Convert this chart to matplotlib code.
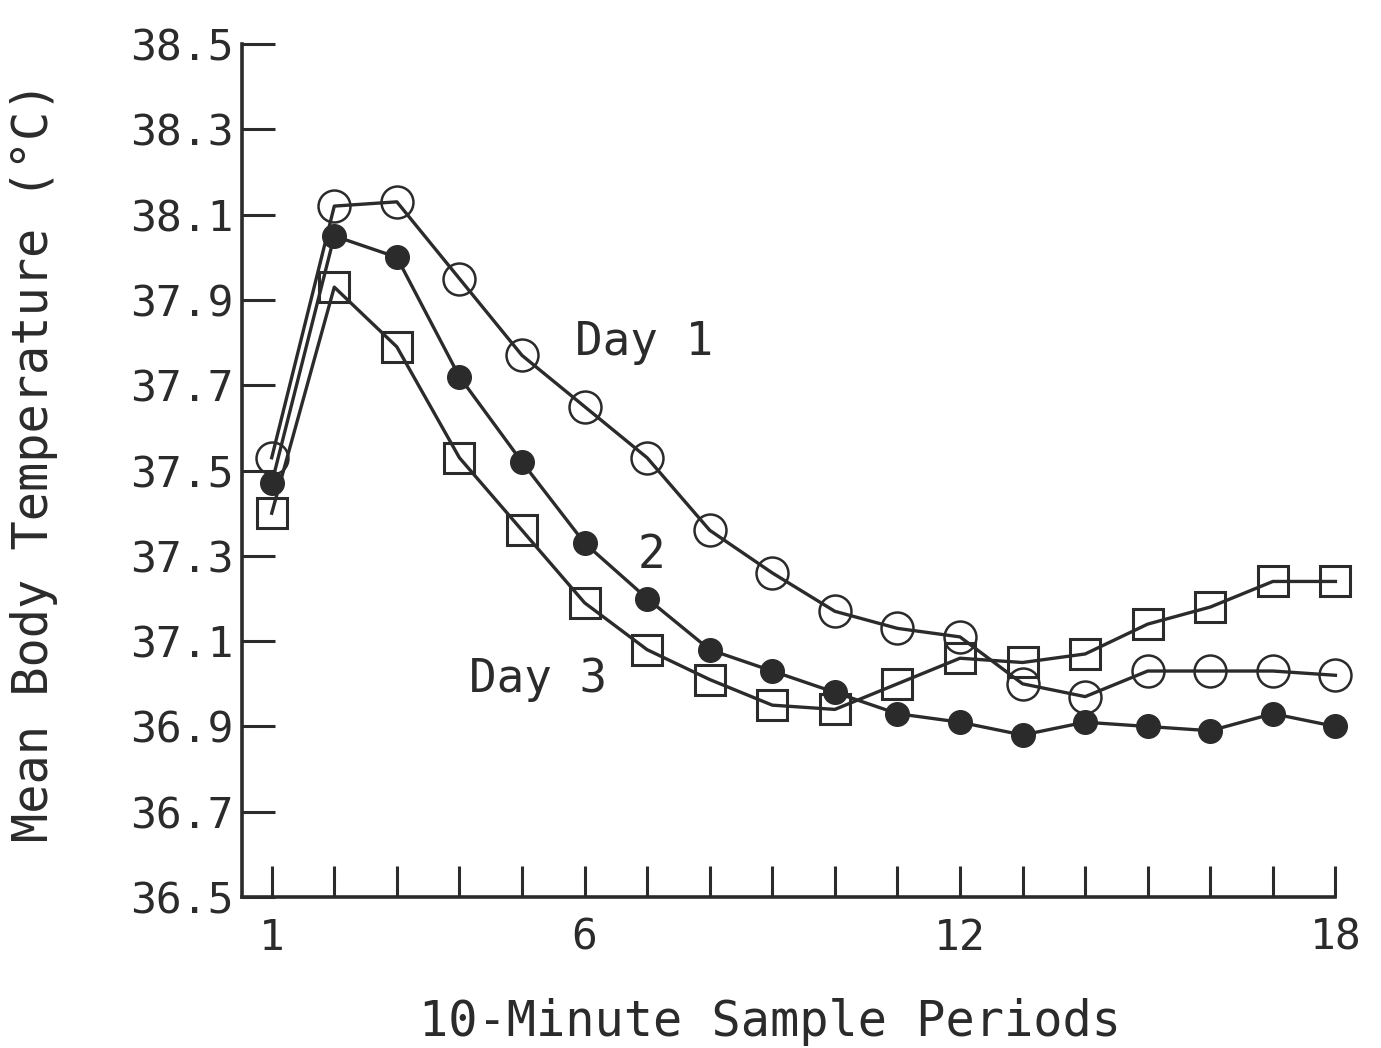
import numpy as np
import matplotlib
matplotlib.use('Agg')
import matplotlib.pyplot as plt
from matplotlib.ticker import MultipleLocator, FixedLocator

# 10-minute sample periods
periods = np.arange(1, 19)

# mean body temperature
day1 = [37.53, 38.12, 38.13, 37.95, 37.77, 37.65, 37.53, 37.36, 37.26,
        37.17, 37.13, 37.11, 37.00, 36.97, 37.03, 37.03, 37.03, 37.02]
day2 = [37.47, 38.05, 38.00, 37.72, 37.52, 37.33, 37.20, 37.08, 37.03,
        36.98, 36.93, 36.91, 36.88, 36.91, 36.90, 36.89, 36.93, 36.90]
day3 = [37.40, 37.93, 37.79, 37.53, 37.36, 37.19, 37.08, 37.01, 36.95,
        36.94, 37.00, 37.06, 37.05, 37.07, 37.14, 37.18, 37.24, 37.24]

xtick_pos = [1, 6, 12, 18]
ytick_pos = np.round(np.arange(36.5, 38.51, 0.2), 1)

ink = '#2b2b2b'
plt.rcParams['font.family'] = ['DejaVu Sans Mono', 'DejaVu Sans']

fig = plt.figure(figsize=(13.81, 10.48), dpi=100)
ax = fig.add_axes([0.175, 0.144, 0.792, 0.814])

ax.plot(periods, day1, color=ink, lw=2.4, marker='o', ms=23, mfc='none',
        mec=ink, mew=1.8, clip_on=False, zorder=3)
ax.plot(periods, day2, color=ink, lw=2.4, marker='o', ms=17, mfc=ink,
        mec=ink, clip_on=False, zorder=4)
ax.plot(periods, day3, color=ink, lw=2.4, marker='s', ms=22, mfc='none',
        mec=ink, mew=2.2, clip_on=False, zorder=3)

ax.text(5.84, 37.80, 'Day 1', fontsize=33, color=ink, va='center', ha='left')
ax.text(7.07, 37.30, '2', fontsize=33, color=ink, va='center', ha='center')
ax.text(4.16, 37.01, 'Day 3', fontsize=33, color=ink, va='center', ha='left')

ax.set_xlim(0.52, 18)
ax.set_ylim(36.5, 38.5)
for s in ['top', 'right']:
    ax.spines[s].set_visible(False)
for s in ['left', 'bottom']:
    ax.spines[s].set_linewidth(2.6)
    ax.spines[s].set_color(ink)

ax.xaxis.set_major_locator(FixedLocator(xtick_pos))
ax.xaxis.set_minor_locator(MultipleLocator(1))
ax.set_xticks(xtick_pos)
ax.set_xticklabels([str(v) for v in xtick_pos])
ax.set_yticks(ytick_pos)
ax.set_yticklabels(['%.1f' % v for v in ytick_pos])

ax.tick_params(axis='x', which='both', direction='in', length=22, width=2.2,
               color=ink, labelsize=31, labelcolor=ink, pad=14)
ax.tick_params(axis='y', which='major', direction='in', length=24, width=2.2,
               color=ink, labelsize=31, labelcolor=ink, pad=6)

ax.set_xlabel('10-Minute Sample Periods', fontsize=35, color=ink)
ax.set_ylabel('Mean Body Temperature (°C)', fontsize=35, color=ink)
ax.xaxis.set_label_coords(0.483, -0.118)
ax.yaxis.set_label_coords(-0.168, 0.51)

fig.savefig('out.png', dpi=100)
